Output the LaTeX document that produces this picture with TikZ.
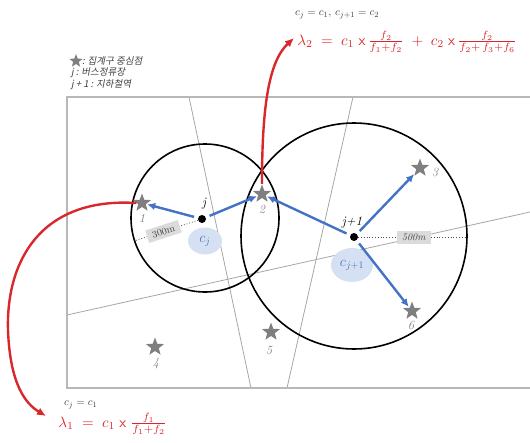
\documentclass[tikz,border=0pt]{standalone}
\usepackage{amsmath}
\usepackage{fontspec}
\newfontfamily\krfont[FakeSlant=0.2]{Noto Sans CJK KR}
\usetikzlibrary{shapes.geometric,arrows.meta}
\definecolor{bl}{HTML}{4472C4}
\definecolor{rd}{HTML}{D9282B}
\definecolor{lb}{HTML}{D5E1F2}
\definecolor{gl}{HTML}{A6A6A6}
\definecolor{st}{HTML}{7F7F7F}
\definecolor{tx}{HTML}{404040}
\begin{document}
\begin{tikzpicture}[x=1pt,y=-1pt,
  starnode/.style={star, star points=5, star point ratio=2.4, fill=st, draw=none, minimum size=19pt, inner sep=0pt},
  numlabel/.style={text=st, font=\fontsize{12.5}{13}\selectfont\itshape, inner sep=0pt},
  dotnode/.style={circle, fill=black, minimum size=8pt, inner sep=0pt},
  bluearrow/.style={draw=bl, line width=2.4pt, -{Latex[length=8pt,width=7.5pt]}, shorten <=4pt, shorten >=1pt},
  redarrow/.style={draw=rd, line width=2.4pt, -{Latex[length=9pt,width=8pt]}},
  ring/.style={draw=black, line width=1.6pt},
  road/.style={draw=gl, line width=0.8pt},
  frame/.style={draw=gl!80, line width=1.2pt},
  dist/.style={draw=black!70, line width=0.8pt, dotted},
  distbox/.style={fill=black!14, text=black!75, font=\fontsize{10}{11}\selectfont, minimum width=34pt, minimum height=13pt, inner sep=1pt},
  cblob/.style={ellipse, fill=lb, text=bl, inner sep=0pt},
  stoplabel/.style={font=\fontsize{13}{14}\selectfont\itshape, inner sep=0pt},
  legend/.style={font=\fontsize{9.5}{10}\selectfont\krfont, text=tx, inner sep=0pt, anchor=west},
  redformula/.style={text=rd, font=\fontsize{10}{12}\selectfont, inner sep=0pt, anchor=west, scale=1.5, transform shape},
  smallformula/.style={text=tx, font=\fontsize{11}{12}\selectfont, inner sep=0pt, anchor=west}
]
\useasboundingbox (0,0) rectangle (530,442);

% roads
\draw[road] (189,97) -- (251,388);
\draw[road] (353,97) -- (287,388);
\draw[road] (67,315) -- (530,212);
% frame
\draw[frame] (530,97) -- (67,97) -- (67,388) -- (530,388);

% catchment circles
\draw[ring] (205,218) circle[radius=74];
\draw[ring] (354,236) circle[radius=113];

% stops
\node[dotnode] (j) at (202,219) {};
\node[dotnode] (j1) at (354,237) {};

% distance markers
\coordinate (e300) at (134,241);
\coordinate (e500) at (467,237);
\draw[dist] (j) -- (e300) node[distbox, pos=0.54, sloped] (b300) {300m};
\draw[dist] (j1) -- (e500) node[distbox, pos=0.51, font=\fontsize{10}{11}\selectfont\itshape] (b500) {500m};

% coefficient blobs
\node[cblob, minimum width=34pt, minimum height=27pt] (cj) at (205,241) {\fontsize{14.4}{16}\selectfont$c_j$};
\node[cblob, minimum width=42pt, minimum height=34pt] (cj1) at (352,265) {\fontsize{14.4}{16}\selectfont$c_{j+1}$};

% census block centroids
\node[starnode] (s1) at (142,203) {};
\node[starnode] (s2) at (262,194) {};
\node[starnode] (s3) at (420,168) {};
\node[starnode] (s4) at (155,347) {};
\node[starnode] (s5) at (271,332) {};
\node[starnode] (s6) at (412,311) {};
\node[numlabel] (n1) at (142,218) {1};
\node[numlabel] (n2) at (262,209) {2};
\node[numlabel] (n3) at (435,172) {3};
\node[numlabel] (n4) at (156,364) {4};
\node[numlabel] (n5) at (269,350) {5};
\node[numlabel] (n6) at (411,325) {6};

% stop labels
\node[stoplabel] (lj) at (204,204) {j};
\node[stoplabel] (lj1) at (352,222) {j+1};

% blue arrows
\draw[bluearrow] (j) -- (s1);
\draw[bluearrow] (j) -- (s2);
\draw[bluearrow] (j1) -- (s2);
\draw[bluearrow] (j1) -- (s3);
\draw[bluearrow] (j1) -- (s6);

% formulas
\node[smallformula] (f2c) at (295,15) {$c_j = c_1,\, c_{j+1} = c_2$};
\node[redformula] (lam2) at (297,42) {$\lambda_2 \;=\; c_1 \;\mathsf{x}\, \frac{f_2}{f_1+f_2} \;+\; c_2 \;\mathsf{x}\, \frac{f_2}{f_2+\,f_3+f_6}$};
\node[smallformula] (f1c) at (64,405) {$c_j = c_1$};
\node[redformula] (lam1) at (58,424) {$\lambda_1 \;=\; c_1 \;\mathsf{x}\; \frac{f_1}{f_1+f_2}$};

% red curved arrows
\coordinate (t1) at (46,416);
\coordinate (t2) at (294,38);
\draw[redarrow] (s1.west) .. controls (40,197) and (6,262) .. (8,330) .. controls (10,385) and (26,404) .. (t1);
\draw[redarrow] (s2.north) .. controls (262,110) and (268,62) .. (t2);

% legend
\node[starnode, minimum size=14pt] (ls) at (76,61) {};
\node[legend] (lt1) at (82,61) {: 집계구 중심점};
\node[legend] (lt2) at (71,73) {j : 버스정류장};
\node[legend] (lt3) at (71,85) {j + 1 : 지하철역};
\end{tikzpicture}
\end{document}
